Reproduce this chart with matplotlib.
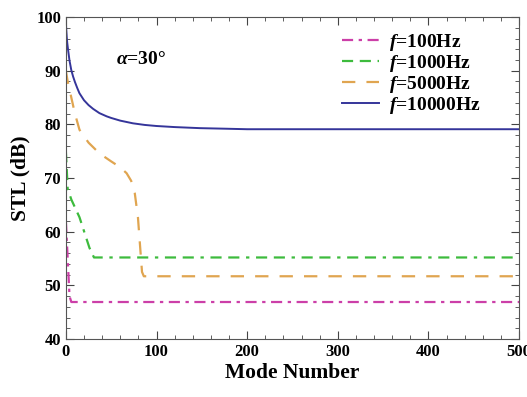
import matplotlib
matplotlib.use('Agg')
import matplotlib.pyplot as plt
from matplotlib.ticker import MultipleLocator

# Dữ liệu
x_100 = [0, 2, 4, 6, 500]
y_100 = [62, 55, 48, 46.9, 46.9]

x_1000 = [0, 2, 6, 15, 26, 31, 500]
y_1000 = [75, 68, 66, 62.7, 57, 55.2, 55.2]

x_5000 = [0, 2, 4, 6, 10, 15, 25, 37, 50, 60, 67, 72, 76, 79.5, 82, 84, 86, 500]
y_5000 = [90, 88, 86.5, 85, 82, 79, 76.6, 74.6, 73.1, 72, 70.9, 69.5, 67.2, 62.7, 57, 52.5, 51.7, 51.7]

x_10000 = [0, 0.5, 1, 1.5, 2.5, 4, 6, 8, 10, 12.5, 15, 20, 25, 30, 37, 45, 50, 60, 74, 87, 100,
           120, 148, 175, 200, 250, 300, 500]
y_10000 = [99, 97.5, 96.2, 95.2, 93.8, 91.9, 90.1, 88.9, 87.9, 86.8, 85.8, 84.5, 83.6, 82.9, 82.1,
           81.5, 81.2, 80.7, 80.2, 79.9, 79.7, 79.5, 79.3, 79.2, 79.1, 79.1, 79.1, 79.1]

labels = ['100Hz', '1000Hz', '5000Hz', '10000Hz']

plt.rcParams['font.family'] = 'Liberation Serif'
plt.rcParams['font.weight'] = 'bold'
plt.rcParams['mathtext.fontset'] = 'custom'
plt.rcParams['mathtext.rm'] = 'Liberation Serif:bold'
plt.rcParams['mathtext.it'] = 'Liberation Serif:italic:bold'
plt.rcParams['mathtext.bf'] = 'Liberation Serif:bold'

fig = plt.figure(figsize=(5.27, 3.97), dpi=100)
ax = fig.add_axes([0.125, 0.146, 0.86, 0.811])

ax.plot(x_100, y_100, color='#cc3fa8', lw=1.6, dashes=(5, 2.5, 1.5, 2.5), label=r'$f$=' + labels[0])
ax.plot(x_1000, y_1000, color='#3dbb3d', lw=1.6, dashes=(5, 3, 5, 3, 1.5, 3), label=r'$f$=' + labels[1])
ax.plot(x_5000, y_5000, color='#e0a550', lw=1.6, dashes=(6, 5), label=r'$f$=' + labels[2])
ax.plot(x_10000, y_10000, color='#35359a', lw=1.4, label=r'$f$=' + labels[3])

ax.set_xlim(0, 500)
ax.set_ylim(40, 100)
ax.xaxis.set_major_locator(MultipleLocator(100))
ax.xaxis.set_minor_locator(MultipleLocator(20))
ax.yaxis.set_major_locator(MultipleLocator(10))
ax.yaxis.set_minor_locator(MultipleLocator(2))
ax.tick_params(which='both', direction='in', top=True, right=True, labelsize=12, color='#444444')
ax.tick_params(which='major', length=6)
ax.tick_params(which='minor', length=3)
for s in ax.spines.values():
    s.set_color('#555555')

ax.set_xlabel('Mode Number', fontsize=15.5, fontweight='bold', labelpad=2)
ax.set_ylabel('STL (dB)', fontsize=15.5, fontweight='bold')

ax.text(83, 92, r'$\alpha$=30°', fontsize=14, ha='center', va='center')

ax.legend(loc='upper right', bbox_to_anchor=(0.915, 0.953), frameon=False, fontsize=14,
          handlelength=1.9, labelspacing=0.0, handletextpad=0.5, borderaxespad=0, borderpad=0)

plt.savefig('out.png', dpi=100)
